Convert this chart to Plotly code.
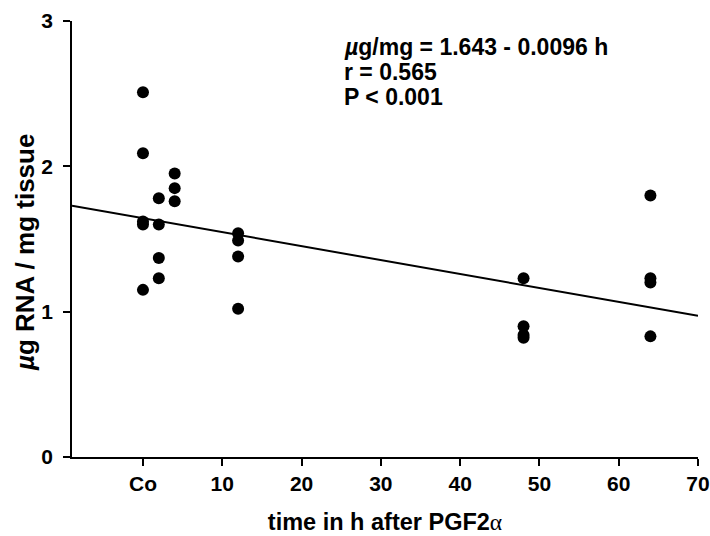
import plotly.graph_objects as go

# Data (hours after PGF2alpha; 0 = control "Co")
time_h = [0, 0, 0, 0, 0,
          2, 2, 2, 2,
          4, 4, 4,
          12, 12, 12, 12,
          48, 48, 48, 48,
          64, 64, 64, 64]
rna_ug_per_mg = [2.51, 2.09, 1.62, 1.60, 1.15,
                 1.78, 1.60, 1.37, 1.23,
                 1.95, 1.85, 1.76,
                 1.54, 1.49, 1.38, 1.02,
                 1.23, 0.90, 0.84, 0.82,
                 1.80, 1.23, 1.20, 0.83]

# Regression stated in the figure
intercept = 1.643
slope = -0.0096
x_range = [-8.95, 70]
line_y = [intercept + slope * h for h in x_range]

x_tickvals = [0, 10, 20, 30, 40, 50, 60, 70]
x_ticktext = ["Co", "10", "20", "30", "40", "50", "60", "70"]
y_tickvals = [0, 1, 2, 3]

stat_lines = ["<i>µ</i>g/mg = 1.643 - 0.0096 h", "r = 0.565", "P &lt; 0.001"]
y_title = "<i>µ</i>g RNA / mg tissue"

FONT = "Liberation Sans, Arial, Helvetica, sans-serif"

fig = go.Figure()
fig.add_trace(go.Scatter(x=x_range, y=line_y, mode="lines",
                         line=dict(color="black", width=2), showlegend=False,
                         hoverinfo="skip", cliponaxis=False))
fig.add_trace(go.Scatter(x=time_h, y=rna_ug_per_mg, mode="markers",
                         marker=dict(color="black", size=12), showlegend=False))

for i, txt in enumerate(stat_lines):
    fig.add_annotation(
        x=25.13, y=2.82, xref="x", yref="y", xanchor="left", yanchor="middle",
        yshift=-25 * i, align="left", showarrow=False, text=txt,
        font=dict(family=FONT, size=23, color="black", weight="bold"),
    )

# y-axis title (as rotated annotation to place it like the original)
fig.add_annotation(
    x=0, y=0.47, xref="paper", yref="paper", xshift=-47,
    xanchor="center", yanchor="middle", textangle=-90, showarrow=False,
    text=y_title, font=dict(family=FONT, size=26, color="black", weight="bold"),
)

fig.update_layout(
    width=710, height=536,
    margin=dict(l=72, r=12, t=21, b=79),
    paper_bgcolor="white", plot_bgcolor="white",
    font=dict(family=FONT, color="black", weight="bold"),
    xaxis=dict(
        range=x_range, tickvals=x_tickvals, ticktext=x_ticktext,
        automargin=False,
        showgrid=False, zeroline=False, showline=True, linecolor="black",
        linewidth=1.5, ticks="outside", ticklen=7, tickwidth=1.5,
        tickcolor="black", tickfont=dict(size=21, family=FONT, weight="bold"),
        title=dict(text="time in h after PGF2<span style='font-family:Liberation Serif;font-weight:normal'>α</span>",
                   font=dict(size=23.5, family=FONT, weight="bold"), standoff=20),
    ),
    yaxis=dict(
        range=[0, 3], tickvals=y_tickvals, automargin=False,
        showgrid=False, zeroline=False, showline=True, linecolor="black",
        linewidth=1.5, ticks="outside", ticklen=7, tickwidth=1.5,
        ticklabelstandoff=6,
        tickcolor="black", tickfont=dict(size=21, family=FONT, weight="bold"),
    ),
)

fig.write_html("out.html", config={"displayModeBar": False},
               post_script="document.body.style.margin='0px';")
